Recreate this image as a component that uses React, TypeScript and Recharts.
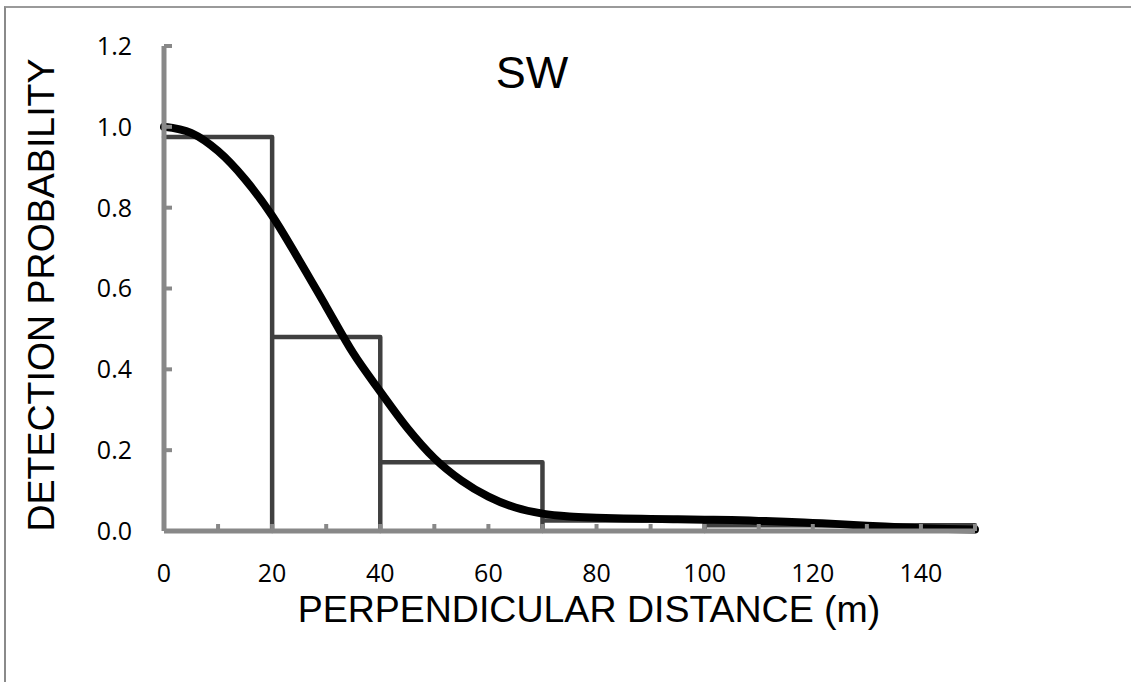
import React from 'react';
import { LineChart, Line, XAxis, YAxis } from 'recharts';

// Fitted detection function
const distance = [0, 5, 10, 15, 20, 25, 30, 35, 40, 45, 50, 55, 60, 65, 70, 75, 80, 85, 90, 95, 100, 105, 110, 115, 120, 125, 130, 135, 140, 145, 150];
const detectionProb = [1.0, 0.985, 0.94, 0.87, 0.78, 0.67, 0.555, 0.44, 0.345, 0.255, 0.18, 0.125, 0.085, 0.058, 0.043, 0.036, 0.033, 0.031, 0.03, 0.029, 0.028, 0.027, 0.025, 0.023, 0.02, 0.017, 0.013, 0.01, 0.007, 0.005, 0.004];

// Histogram bins
const binEdges = [0, 20, 40, 70, 100, 150];
const binHeights = [0.975, 0.48, 0.17, 0.026, 0.014];

const xTicks = [0, 10, 20, 30, 40, 50, 60, 70, 80, 90, 100, 110, 120, 130, 140, 150];
const xLabeled = [0, 20, 40, 60, 80, 100, 120, 140];
const yTicks = [0, 0.2, 0.4, 0.6, 0.8, 1.0, 1.2];

const curveData = distance.map((d, i) => ({ x: d, g: detectionProb[i] }));

const histData: { x: number; h: number }[] = [];
binHeights.forEach((h, i) => {
  const a = binEdges[i];
  const b = binEdges[i + 1];
  histData.push({ x: a, h });
  histData.push({ x: b, h });
  histData.push({ x: b, h: 0 });
});

const AXIS = '#888888';
const tickFont = { fontFamily: '"Open Sans", sans-serif', fontSize: 25, fill: '#000' };
const titleFont = '"Liberation Sans", Arial, sans-serif';

export default function App() {
  return (
    <div style={{ position: 'absolute', left: 0, top: 0, width: 1131, height: 682, background: '#fff', overflow: 'hidden' }}>
      <div style={{ position: 'absolute', left: 4, top: 6, width: 1200, height: 800, borderLeft: '2px solid #8a8a8a', borderTop: '2px solid #9a9a9a' }} />
      <LineChart
        width={1131}
        height={682}
        margin={{ top: 46, right: 156, left: 0, bottom: 0 }}
        style={{ position: 'absolute', left: 0, top: 0 }}
      >
        <XAxis
          type="number"
          dataKey="x"
          domain={[0, 150]}
          ticks={xTicks}
          interval={0}
          allowDuplicatedCategory
          height={151}
          stroke={AXIS}
          strokeWidth={5}
          axisLine={{ stroke: AXIS, strokeWidth: 5 }}
          tickLine={{ stroke: AXIS, strokeWidth: 4 }}
          tickSize={-7}
          tickMargin={40}
          tick={tickFont}
          tickFormatter={(v: number) => (xLabeled.includes(v) ? String(v) : '')}
        />
        <YAxis
          type="number"
          domain={[0, 1.2]}
          ticks={yTicks}
          interval={0}
          width={164}
          stroke={AXIS}
          strokeWidth={5}
          axisLine={{ stroke: AXIS, strokeWidth: 5 }}
          tickLine={{ stroke: AXIS, strokeWidth: 4 }}
          tickSize={-8}
          tickMargin={40}
          tick={tickFont}
          tickFormatter={(v: number) => v.toFixed(1)}
        />
        <Line
          data={histData}
          dataKey="h"
          type="linear"
          stroke="#404040"
          strokeWidth={4.5}
          strokeLinecap="round"
          strokeLinejoin="round"
          dot={false}
          activeDot={false}
          isAnimationActive={false}
        />
        <Line
          data={curveData}
          dataKey="g"
          type="monotone"
          stroke="#000"
          strokeWidth={8}
          strokeLinecap="round"
          dot={false}
          activeDot={false}
          isAnimationActive={false}
        />
      </LineChart>
      <svg width={1131} height={682} style={{ position: 'absolute', left: 0, top: 0, pointerEvents: 'none' }}>
        <text x={532} y={88} textAnchor="middle" fontFamily={titleFont} fontSize={45} fill="#000">SW</text>
        <text x={589} y={622} textAnchor="middle" fontFamily={titleFont} fontSize={37.5} fill="#000">PERPENDICULAR DISTANCE (m)</text>
        <text x={0} y={0} transform="translate(54,295) rotate(-90)" textAnchor="middle" fontFamily={titleFont} fontSize={37.5} fill="#000">DETECTION PROBABILITY</text>
      </svg>
    </div>
  );
}
